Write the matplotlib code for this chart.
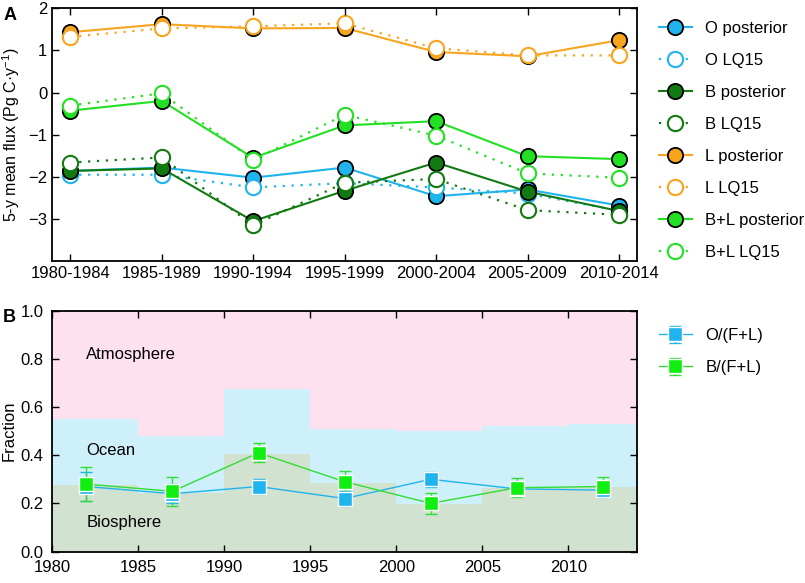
import numpy as np
import matplotlib
matplotlib.use('Agg')
import matplotlib.pyplot as plt

plt.rcParams['font.family'] = ['Liberation Sans', 'DejaVu Sans']
plt.rcParams['mathtext.fontset'] = 'custom'
plt.rcParams['mathtext.rm'] = 'Liberation Sans'

# Panel A data: 5-year mean fluxes (Pg C / y)
periods = ["1980-1984", "1985-1989", "1990-1994", "1995-1999",
           "2000-2004", "2005-2009", "2010-2014"]
o_post = [-1.86, -1.78, -2.02, -1.78, -2.46, -2.30, -2.68]
o_lq15 = [-1.95, -1.95, -2.25, -2.15, -2.25, -2.40, -2.80]
b_post = [-1.86, -1.80, -3.05, -2.33, -1.66, -2.35, -2.81]
b_lq15 = [-1.66, -1.54, -3.15, -2.14, -2.05, -2.79, -2.90]
l_post = [1.43, 1.62, 1.52, 1.53, 0.96, 0.86, 1.24]
l_lq15 = [1.32, 1.52, 1.57, 1.64, 1.05, 0.88, 0.88]
bl_post = [-0.43, -0.20, -1.55, -0.78, -0.68, -1.51, -1.58]
bl_lq15 = [-0.31, -0.02, -1.60, -0.53, -1.02, -1.92, -2.02]

# Panel B data: fractions per 5-year block
block_edges = [1980, 1985, 1990, 1995, 2000, 2005, 2010, 2014]
bio_frac = [0.275, 0.245, 0.406, 0.286, 0.197, 0.263, 0.267]
ocean_top = [0.550, 0.481, 0.676, 0.508, 0.501, 0.521, 0.528]
mid_years = [1982, 1987, 1992, 1997, 2002, 2007, 2012]
o_frac = [0.27, 0.24, 0.27, 0.22, 0.30, 0.26, 0.255]
o_err = [0.06, 0.04, 0.03, 0.03, 0.03, 0.03, 0.03]
b_frac = [0.28, 0.25, 0.41, 0.29, 0.20, 0.265, 0.27]
b_err = [0.07, 0.06, 0.04, 0.045, 0.045, 0.04, 0.04]

c_o = '#1fb4ee'
c_b = '#117a11'
c_l = '#f7a51e'
c_bl = '#22e022'

fig = plt.figure(figsize=(8.05, 5.83), dpi=100)
axA = fig.add_axes([0.0646, 0.552, 0.727, 0.434])
axB = fig.add_axes([0.0646, 0.054, 0.727, 0.413])

x = np.arange(len(periods))
series = [
    (o_post, c_o, 'O posterior', True),
    (o_lq15, c_o, 'O LQ15', False),
    (b_post, c_b, 'B posterior', True),
    (b_lq15, c_b, 'B LQ15', False),
    (l_post, c_l, 'L posterior', True),
    (l_lq15, c_l, 'L LQ15', False),
    (bl_post, c_bl, 'B+L posterior', True),
    (bl_lq15, c_bl, 'B+L LQ15', False),
]
for vals, col, lab, post in series:
    if post:
        axA.plot(x, vals, '-', color=col, lw=1.5, marker='o', ms=11,
                 mfc=col, mec='black', mew=1.3, label=lab)
    else:
        axA.plot(x, vals, linestyle=(0, (1, 3)), color=col, lw=1.6,
                 marker='o', ms=11, mfc='white', mec=col, mew=1.5, label=lab)

axA.set_xlim(-0.2, 6.2)
axA.set_ylim(-4, 2)
axA.set_yticks([-3, -2, -1, 0, 1, 2])
axA.set_yticklabels(['\u22123', '\u22122', '\u22121', '0', '1', '2'])
axA.set_xticks(x)
axA.set_xticklabels(periods)
axA.set_ylabel('5-y mean flux (Pg C\u00b7y$^{-1}$)', fontsize=11.5)
axA.legend(loc='upper left', bbox_to_anchor=(1.025, 0.975), frameon=False,
           fontsize=12, labelspacing=1.02, handlelength=2.0, borderaxespad=0)

# Panel B: stacked background blocks
for i in range(len(bio_frac)):
    x0, x1 = block_edges[i], block_edges[i + 1]
    axB.fill_between([x0, x1], 0, bio_frac[i], color='#d2e2d0', lw=0)
    axB.fill_between([x0, x1], bio_frac[i], ocean_top[i], color='#cdf0fb', lw=0)
    axB.fill_between([x0, x1], ocean_top[i], 1, color='#fde1ef', lw=0)

axB.errorbar(mid_years, o_frac, yerr=o_err, color=c_o, lw=1, marker='s',
             ms=10, mfc=c_o, mec='white', mew=1, capsize=4, elinewidth=1,
             label='O/(F+L)')
axB.errorbar(mid_years, b_frac, yerr=b_err, color='#33dd33', lw=1, marker='s',
             ms=10, mfc='#11ee11', mec='white', mew=1, capsize=4, elinewidth=1,
             label='B/(F+L)')

axB.text(1982, 0.82, 'Atmosphere', fontsize=12, va='center')
axB.text(1982, 0.42, 'Ocean', fontsize=12, va='center')
axB.text(1982, 0.12, 'Biosphere', fontsize=12, va='center')

axB.set_xlim(1980, 2014)
axB.set_ylim(0, 1)
axB.set_xticks([1980, 1985, 1990, 1995, 2000, 2005, 2010])
axB.set_yticks([0, 0.2, 0.4, 0.6, 0.8, 1.0])
axB.set_yticklabels(['0.0', '0.2', '0.4', '0.6', '0.8', '1.0'])
axB.set_ylabel('Fraction', fontsize=12, labelpad=3)
axB.legend(loc='upper left', bbox_to_anchor=(1.025, 0.955), frameon=False,
           fontsize=12, labelspacing=1.02, handlelength=2.0, borderaxespad=0)

for ax in (axA, axB):
    ax.tick_params(direction='in', top=True, right=True, labelsize=12,
                   length=5, width=1)
    for s in ax.spines.values():
        s.set_linewidth(1.3)
    ax.set_axisbelow(False)
axB.tick_params(axis='x', pad=6)
axB.tick_params(axis='y', pad=6)

fig.text(0.004, 0.965, 'A', fontsize=13, fontweight='bold')
fig.text(0.004, 0.447, 'B', fontsize=13, fontweight='bold')

fig.savefig('out.png', dpi=100)
plt.close(fig)
